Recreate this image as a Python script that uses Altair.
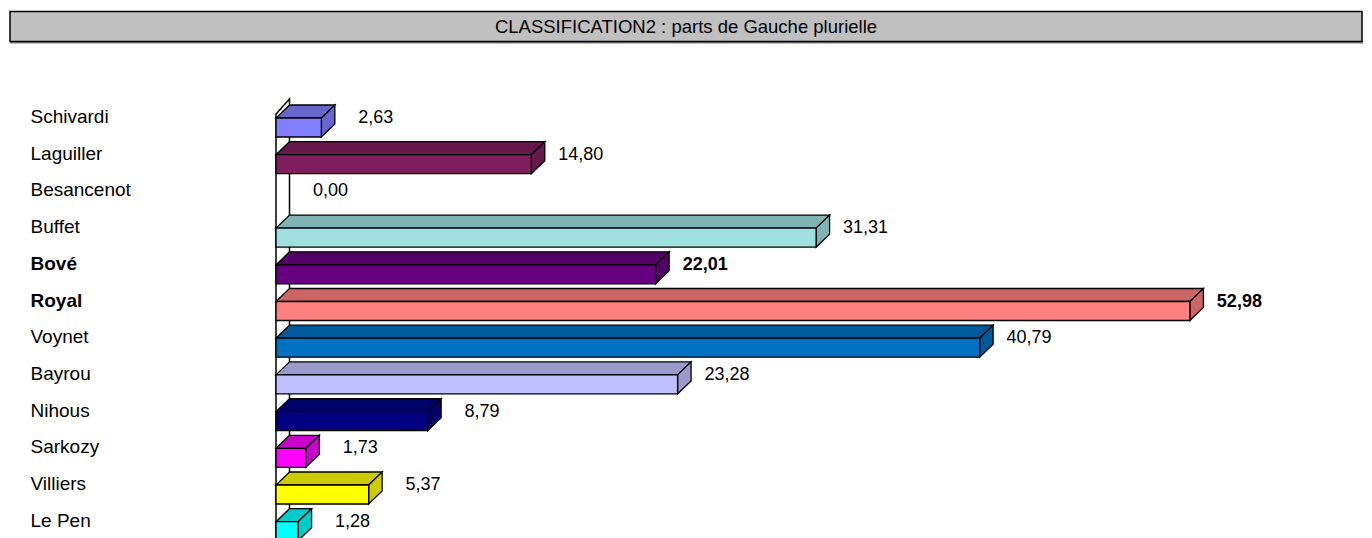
import json
import altair as alt
import pandas as pd

# ---- data ----
names = ["Schivardi", "Laguiller", "Besancenot", "Buffet", "Bové", "Royal",
         "Voynet", "Bayrou", "Nihous", "Sarkozy", "Villiers", "Le Pen"]
values = [2.63, 14.80, 0.00, 31.31, 22.01, 52.98, 40.79, 23.28, 8.79, 1.73, 5.37, 1.28]
bold_names = ["Bové", "Royal"]
front_colors = ["#8080FF", "#7F1F5F", "#A0E0E0", "#A0E0E0", "#660080", "#FF8080",
                "#0070C0", "#C0C0FF", "#000080", "#FF00FF", "#FFFF00", "#00FFFF"]
side_colors = ["#6666CC", "#661A4C", "#80B3B3", "#80B3B3", "#520066", "#CC6666",
               "#005A9A", "#9A9ACC", "#000066", "#CC00CC", "#CCCC00", "#00CCCC"]
title_text = "CLASSIFICATION2 : parts de Gauche plurielle"

# ---- geometry / style ----
PX_PER_UNIT = 17.25
ROW_PX = 36.7
DEPTH_X = 13.5
DEPTH_Y = 13.0
FACE_PX = 19.0
W, H = 1088, 530
LEFT_PAD = 268
FIRST_ROW_PX = 110
FONT = "Liberation Sans"
FS = 18

dx = DEPTH_X / PX_PER_UNIT
dy = DEPTH_Y / ROW_PX
fh = FACE_PX / ROW_PX

xscale = alt.Scale(domain=[0, W / PX_PER_UNIT], nice=False, zero=False)
yscale = alt.Scale(domain=[-FIRST_ROW_PX / ROW_PX, (H - FIRST_ROW_PX) / ROW_PX],
                   reverse=True, nice=False, zero=False)

front_rows, top_rows, side_rows, text_rows = [], [], [], []
for i, (n, v, fc, sc) in enumerate(zip(names, values, front_colors, side_colors)):
    text_rows.append({"name": n, "r": i, "v": v,
                      "label": f"{v:.2f}".replace(".", ","),
                      "bold": n in bold_names})
    if v <= 0:
        continue
    front_rows.append({"name": n, "r": i, "r2": i + fh, "x": 0.0, "x2": v, "c": fc})
    top_rows.append({"name": n, "r": i, "x": 0.0, "x2": v, "c": sc})
    top_rows.append({"name": n, "r": i - dy, "x": dx, "x2": v + dx, "c": sc})
    side_rows.append({"name": n, "x": v, "r": i, "r2": i + fh, "c": sc})
    side_rows.append({"name": n, "x": v + dx, "r": i - dy, "r2": i + fh - dy, "c": sc})

front_df = pd.DataFrame(front_rows)
top_df = pd.DataFrame(top_rows)
side_df = pd.DataFrame(side_rows)
text_df = pd.DataFrame(text_rows)
wall_df = pd.DataFrame([
    {"x": 0.0, "r": -0.11, "r2": 13.0},
    {"x": dx, "r": -0.52, "r2": 13.0 - dy},
])

bold_idx = [i for i, n in enumerate(names) if n in bold_names]
bold_test = " || ".join(f"datum.value == {i}" for i in bold_idx)

y_axis = alt.Axis(
    values=list(range(len(names))),
    labelExpr=json.dumps(names, ensure_ascii=False) + "[datum.value]",
    title=None, ticks=False, domain=False, grid=False,
    labelAlign="left", labelPadding=LEFT_PAD - 22, labelBaseline="middle",
    labelOffset=-1.5,
    labelFont=FONT, labelFontSize=19, labelColor="black",
    labelFontWeight={"condition": {"test": bold_test, "value": "bold"}, "value": "normal"},
)


def Y(field):
    return alt.Y(field, scale=yscale, axis=y_axis)


def X(field):
    return alt.X(field, scale=xscale, axis=None)


wall = alt.Chart(wall_df).mark_area(orient="vertical", fill="white", stroke="black",
                                    strokeWidth=1.5).encode(
    x=X("x:Q"), y=Y("r:Q"), y2="r2:Q",
)

tops = alt.Chart(top_df).mark_area(orient="horizontal", stroke="black",
                                   strokeWidth=1.3).encode(
    y=Y("r:Q"), x=X("x:Q"), x2="x2:Q",
    fill=alt.Fill("c:N", scale=None),
    detail="name:N",
)

sides = alt.Chart(side_df).mark_area(orient="vertical", stroke="black",
                                     strokeWidth=1.3).encode(
    x=X("x:Q"), y=Y("r:Q"), y2="r2:Q",
    fill=alt.Fill("c:N", scale=None),
    detail="name:N",
)

fronts = alt.Chart(front_df).mark_rect(stroke="black", strokeWidth=1.3).encode(
    x=X("x:Q"), x2="x2:Q", y=Y("r:Q"), y2="r2:Q",
    fill=alt.Fill("c:N", scale=None),
)


def value_text(bold):
    return alt.Chart(text_df).transform_filter(
        "datum.bold" if bold else "!datum.bold"
    ).mark_text(align="right", baseline="middle", dx=72, font=FONT, fontSize=FS,
                fontWeight="bold" if bold else "normal", color="black").encode(
        x=X("v:Q"), y=Y("r:Q"), text="label:N",
    )


box_df = pd.DataFrame([{"t": title_text}])
title_shadow = alt.Chart(box_df).mark_rect(fill="#808080").encode(
    x=alt.value(-266), x2=alt.value(1087), y=alt.value(33), y2=alt.value(35.5),
)
title_box = alt.Chart(box_df).mark_rect(fill="#C0C0C0", stroke="black", strokeWidth=1.5).encode(
    x=alt.value(-266), x2=alt.value(1086), y=alt.value(3.5), y2=alt.value(33.5),
)
title_label = alt.Chart(box_df).mark_text(align="center", baseline="middle", font=FONT,
                                          fontSize=18.5, color="black").encode(
    x=alt.value(410), y=alt.value(19), text="t:N",
)

chart = alt.layer(
    title_shadow, title_box, title_label, wall, tops, sides, fronts,
    value_text(False), value_text(True),
).properties(
    width=W, height=H,
    padding={"left": LEFT_PAD, "top": 0, "right": 0, "bottom": 0},
    autosize=alt.AutoSizeParams(type="none"),
    background="white",
).configure_view(stroke=None)

chart.save("out.html", embed_options={"renderer": "svg", "actions": False})
